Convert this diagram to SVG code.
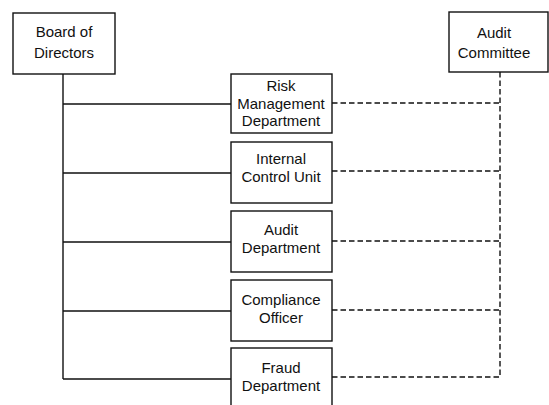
<svg xmlns="http://www.w3.org/2000/svg" width="549" height="405" viewBox="0 0 549 405">
<style>
.box{fill:#fff;stroke:#111;stroke-width:1.4}
.t{font-family:"Liberation Sans",Arial,sans-serif;font-size:15px;fill:#111;text-anchor:middle}
.solid{stroke:#111;stroke-width:1.4;fill:none}
.dash{stroke:#111;stroke-width:1.4;fill:none;stroke-dasharray:5.5 3}
</style>
<rect width="549" height="405" fill="#fff"/>
<g id="connectors">
<path class="solid" d="M63 74V379M63 104H231M63 173H231M63 242H231M63 311H231M63 379H231"/>
<path class="dash" d="M500 72V377M332 103H500M332 171H500M332 241H500M332 310H500M332 377H500"/>
</g>
<g id="board">
<rect class="box" x="13" y="13" width="102" height="61"/>
<text class="t" x="64" y="37">Board of</text>
<text class="t" x="64" y="58">Directors</text>
</g>
<g id="audit-committee">
<rect class="box" x="449" y="12" width="99" height="60"/>
<text class="t" x="494" y="38">Audit</text>
<text class="t" x="494" y="58">Committee</text>
</g>
<g id="risk">
<rect class="box" x="231" y="74" width="101" height="59"/>
<text class="t" x="281" y="91">Risk</text>
<text class="t" x="281" y="108.5">Management</text>
<text class="t" x="281" y="126">Department</text>
</g>
<g id="internal-control">
<rect class="box" x="231" y="142" width="101" height="61"/>
<text class="t" x="281" y="164">Internal</text>
<text class="t" x="281" y="182">Control Unit</text>
</g>
<g id="audit-dept">
<rect class="box" x="231" y="211" width="101" height="61"/>
<text class="t" x="281" y="235">Audit</text>
<text class="t" x="281" y="253">Department</text>
</g>
<g id="compliance">
<rect class="box" x="231" y="280" width="101" height="61"/>
<text class="t" x="281" y="305">Compliance</text>
<text class="t" x="281" y="323">Officer</text>
</g>
<g id="fraud">
<rect class="box" x="231" y="348" width="101" height="64"/>
<text class="t" x="281" y="373">Fraud</text>
<text class="t" x="281" y="391">Department</text>
</g>
</svg>
